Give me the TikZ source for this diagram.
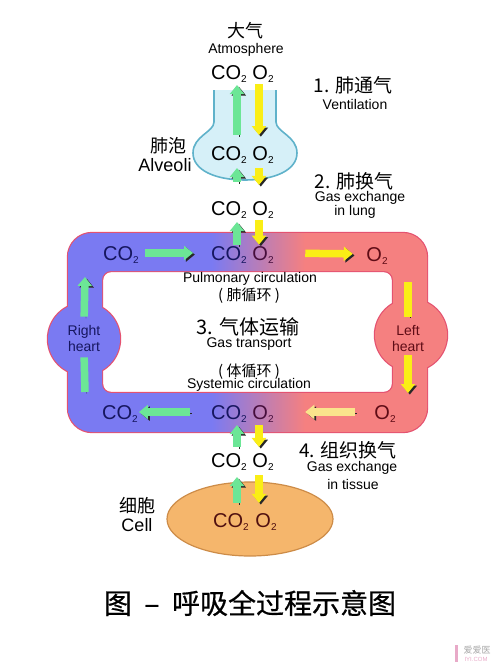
\documentclass[tikz,border=0pt]{standalone}
\usepackage{fontspec}
\setmainfont{Liberation Sans}
\newfontfamily\cjk{Noto Sans CJK SC}
\newfontfamily\cjkcap[FakeBold=0.6]{Noto Sans CJK SC}
\usetikzlibrary{arrows.meta}
\definecolor{bandblue}{RGB}{122,122,242}
\definecolor{bandpink}{RGB}{245,128,128}
\definecolor{bandedge}{RGB}{228,82,112}
\definecolor{navytext}{RGB}{22,22,95}
\definecolor{redtext}{RGB}{95,12,22}
\definecolor{mixtext}{RGB}{70,14,60}
\definecolor{celltext}{RGB}{80,16,16}
\definecolor{alvfill}{RGB}{214,240,248}
\definecolor{alvedge}{RGB}{95,178,202}
\definecolor{cellfill}{RGB}{245,182,108}
\definecolor{celledge}{RGB}{205,140,72}
\definecolor{co2green}{RGB}{108,230,150}
\definecolor{o2yellow}{RGB}{250,238,22}
\definecolor{o2pale}{RGB}{250,228,140}
\definecolor{arrowshade}{RGB}{40,40,40}
\definecolor{markpink}{RGB}{232,170,200}
\pgfdeclarehorizontalshading{bandshade}{100bp}{color(0bp)=(bandblue); color(45bp)=(bandblue); color(58bp)=(bandpink); color(100bp)=(bandpink)}
\newcommand{\lowsub}[1]{\raisebox{-2.5pt}{\fontsize{10}{10}\selectfont #1}}
\newcommand{\cotwo}{CO\lowsub{2}}
\newcommand{\otwo}{O\lowsub{2}}
\begin{document}
\begin{tikzpicture}[x=1pt,y=-1pt,
  gas/.style={font=\fontsize{20}{22}\selectfont, inner sep=0pt},
  lbl/.style={font=\fontsize{14}{16}\selectfont, inner sep=0pt, align=center},
  big/.style={font=\fontsize{18}{20}\selectfont, inner sep=0pt},
  cn/.style={font=\cjk\fontsize{18}{20}\selectfont, inner sep=0pt},
  stage/.style={font=\cjk\fontsize{19}{21}\selectfont, inner sep=0pt},
  flow/.style={line width=7.5pt, preaction={draw=arrowshade, transform canvas={shift={(1.8pt,-1.6pt)}}}},
  co2flow/.style={flow, draw=co2green, -{Triangle[width=14pt,length=9pt]}},
  o2flow/.style={flow, draw=o2yellow, -{Triangle[width=14pt,length=9pt]}},
]
\useasboundingbox (0,0) rectangle (500,670);

\draw[bandedge, line width=2.4pt] {[rounded corners=24pt] (68,233) rectangle (427,432)}
  {[rounded corners=9pt] (102,271) rectangle (393,393)}
  (84,339) circle[radius=36pt] (411,335) circle[radius=36pt];
\shade[shading=bandshade, even odd rule] {[rounded corners=24pt] (68,233) rectangle (427,432)}
  {[rounded corners=9pt] (102,271) rectangle (393,393)};
\fill[bandblue] (84,339) circle[radius=36pt];
\fill[bandpink] (411,335) circle[radius=36pt];

\draw[alvedge, fill=alvfill, line width=1.6pt] (214,90) -- (214,122)
  .. controls (214,132) and (193,136) .. (193,153)
  .. controls (193,170) and (215,180) .. (245,180)
  .. controls (275,180) and (297,170) .. (297,153)
  .. controls (297,136) and (276,132) .. (276,122) -- (276,90);
\draw[celledge, fill=cellfill, line width=1.2pt] (250,519) ellipse[x radius=83pt, y radius=37pt];

\node[cn] (air) at (245,31) {大气};
\node[lbl] (atmos) at (246,50) {Atmosphere};
\node[gas] (co2atm) at (229,74) {\cotwo};
\node[gas] (o2atm) at (263,74) {\otwo};
\node[stage] (stage1) at (353,85) {1. 肺通气};
\node[lbl] (vent) at (355,104) {Ventilation};

\node[cn] (alvcn) at (168,146) {肺泡};
\node[big] (alven) at (165,165) {Alveoli};
\node[gas] (co2alv) at (229,155) {\cotwo};
\node[gas] (o2alv) at (263,155) {\otwo};

\node[stage] (stage2) at (354,181) {2. 肺换气};
\node[lbl] (gexlung) at (360,198) {Gas exchange};
\node[lbl] (inlung) at (355,212) {in lung};
\node[gas] (co2lung) at (229,210) {\cotwo};
\node[gas] (o2lung) at (263,210) {\otwo};

\node[gas, navytext] (co2top) at (229,255) {\cotwo};
\node[gas, mixtext] (o2top) at (263,255) {\otwo};
\node[gas, navytext] (co2tl) at (121,255) {\cotwo};
\node[gas, redtext] (o2tr) at (377,256) {\otwo};

\node[lbl] (pulm) at (250,279) {Pulmonary circulation};
\node[lbl, font=\cjk\fontsize{15}{17}\selectfont] (pulmcn) at (249,296) {( 肺循环 )};
\node[stage, font=\cjk\fontsize{20}{22}\selectfont] (stage3) at (248,327) {3. 气体运输};
\node[lbl] (transp) at (249,344) {Gas transport};
\node[lbl, font=\cjk\fontsize{15}{17}\selectfont] (syscn) at (249,372) {( 体循环 )};
\node[lbl] (sys) at (249,385) {Systemic circulation};

\node[lbl, navytext] (rheart) at (84,338) {Right\\heart};
\node[lbl, redtext] (lheart) at (408,338) {Left\\heart};

\node[gas, navytext] (co2bl) at (120,414) {\cotwo};
\node[gas, navytext] (co2bot) at (229,414) {\cotwo};
\node[gas, mixtext] (o2bot) at (263,414) {\otwo};
\node[gas, redtext] (o2br) at (385,414) {\otwo};

\node[stage] (stage4) at (348,450) {4. 组织换气};
\node[lbl] (gextis) at (352,468) {Gas exchange};
\node[lbl] (intis) at (353,484) {in tissue};
\node[gas] (co2tis) at (229,462) {\cotwo};
\node[gas] (o2tis) at (263,462) {\otwo};

\node[cn] (cellcn) at (137,506) {细胞};
\node[big] (cellen) at (137,525) {Cell};
\node[gas, celltext] (co2cell) at (231,522) {\cotwo};
\node[gas, celltext] (o2cell) at (266,522) {\otwo};

\coordinate (lbot) at (85,392);
\coordinate (ltop) at (85,277);
\coordinate (rtop) at (408,282);
\coordinate (rbot) at (408,393);

\draw[co2flow, shorten <=11.6pt, shorten >=2.6pt] ([xshift=8pt]co2alv.north) -- ([xshift=8pt]co2atm.south);
\draw[o2flow, shorten <=2pt, shorten >=11.5pt] ([xshift=-4pt]o2atm.south) -- ([xshift=-4pt]o2alv.north);
\draw[co2flow, shorten <=19.6pt, shorten >=4.6pt] ([xshift=8pt]co2lung.north) -- ([xshift=8pt]co2alv.south);
\draw[o2flow, shorten <=4.6pt, shorten >=16.6pt] ([xshift=-4pt]o2alv.south) -- ([xshift=-4pt]o2lung.north);
\draw[co2flow, shorten <=1.6pt, shorten >=3.6pt] ([xshift=8pt]co2top.north) -- ([xshift=8pt]co2lung.south);
\draw[o2flow, shorten <=2pt, shorten >=2pt] ([xshift=-4pt]o2lung.south) -- ([xshift=-4pt]o2top.north);

\draw[co2flow, shorten <=6pt, shorten >=18pt] ([yshift=2pt]co2tl.east) -- ([yshift=2pt]co2top.west);
\draw[o2flow, shorten <=31.5pt, shorten >=13.5pt] ([yshift=2pt]o2top.east) -- ([yshift=2pt]o2tr.west);
\draw[flow, draw=o2yellow, shorten >=8pt] (rtop) -- (lheart.north);
\draw[o2flow, shorten <=4pt] (lheart.south) -- (rbot);
\draw[o2flow, draw=o2pale, shorten <=19.5pt, shorten >=31.5pt] ([yshift=2pt]o2br.west) -- ([yshift=2pt]o2bot.east);
\draw[co2flow, shorten <=21pt, shorten >=1pt] ([yshift=2pt]co2bot.west) -- ([yshift=2pt]co2bl.east);
\draw[flow, draw=co2green, shorten >=6pt] (lbot) -- (rheart.south);
\draw[co2flow, shorten <=8pt] (rheart.north) -- (ltop);

\draw[co2flow, shorten <=6.6pt, shorten >=2.6pt] ([xshift=8pt]co2tis.north) -- ([xshift=8pt]co2bot.south);
\draw[o2flow, shorten <=2.6pt, shorten >=6.6pt] ([xshift=-4pt]o2bot.south) -- ([xshift=-4pt]o2tis.north);
\draw[co2flow, shorten <=10.6pt, shorten >=6.6pt] ([xshift=6pt]co2cell.north) -- ([xshift=8pt]co2tis.south);
\draw[o2flow, shorten <=4.6pt, shorten >=10.6pt] ([xshift=-4pt]o2tis.south) -- ([xshift=-7pt]o2cell.north);

\node[font=\cjkcap\fontsize{28}{30}\selectfont, inner sep=0pt] (title) at (250,603) {图\hspace{0.45em}–\hspace{0.45em}呼吸全过程示意图};

\fill[markpink] (455,645) rectangle (458,662);
\node[font=\cjk\fontsize{9}{9}\selectfont, text=black!35, inner sep=0pt] (markcn) at (477,650) {爱爱医};
\node[font=\fontsize{6}{6}\selectfont, text=markpink, inner sep=0pt] (markurl) at (476,659) {IYI.COM};
\end{tikzpicture}
\end{document}
